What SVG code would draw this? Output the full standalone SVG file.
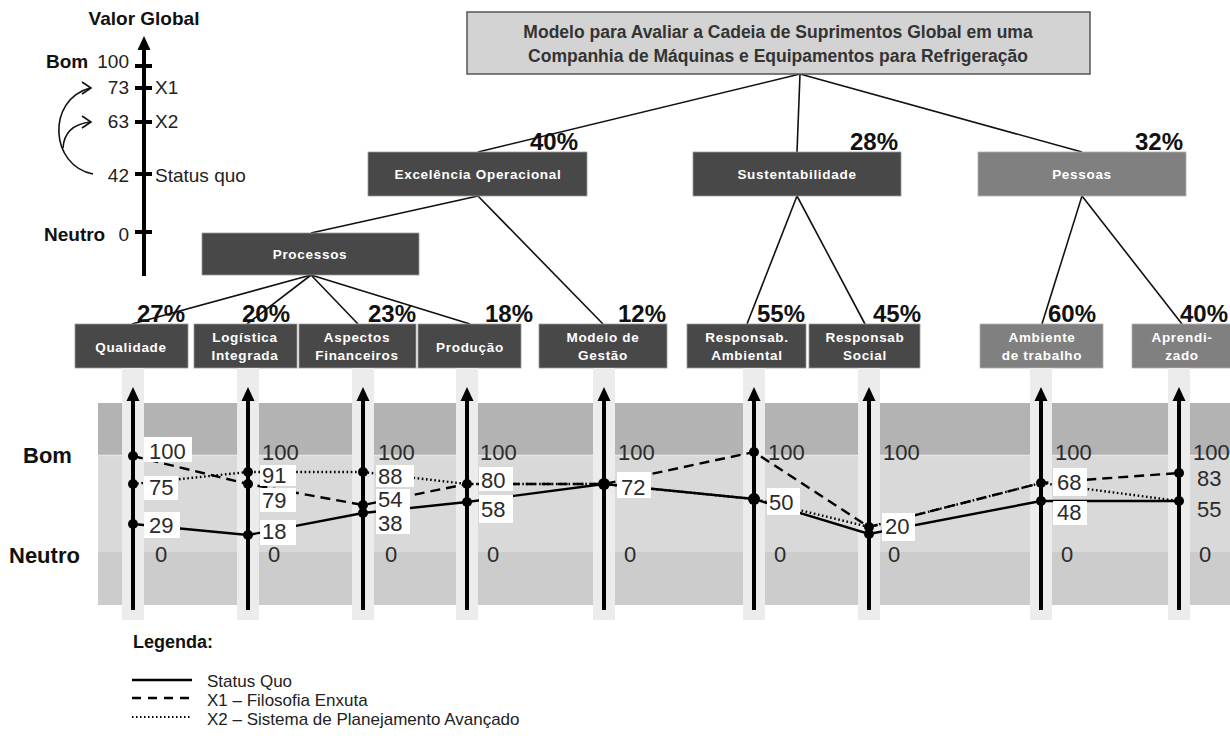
<svg xmlns="http://www.w3.org/2000/svg" width="1230" height="741" viewBox="0 0 1230 741">
  <defs>
    <style>
      text { font-family: "Liberation Sans", Arial, sans-serif; }
      .box { fill: #484848; stroke: #9a9a9a; stroke-width: 0.8; }
      .boxl { fill: #808080; stroke: #b0b0b0; stroke-width: 0.8; }
      .bt { fill: #ffffff; font-size: 13.5px; font-weight: bold; letter-spacing: 0.7px; text-anchor: middle; }
      .pct { fill: #111; font-size: 24px; font-weight: bold; }
      .conn { stroke: #111; stroke-width: 1.6; fill: none; }
      .num { fill: #2b2b2b; font-size: 22px; }
      .lab { fill: #fff; }
      .ax { stroke: #000; stroke-width: 4; }
      .strip { fill: #ececec; }
      .sq { stroke: #000; stroke-width: 2.4; fill: none; }
      .x1 { stroke: #000; stroke-width: 2.4; fill: none; stroke-dasharray: 10 6; }
      .x2 { stroke: #000; stroke-width: 2.4; fill: none; stroke-dasharray: 1.6 2.6; }
      .sc { fill: #222; font-size: 19px; }
      .scb { fill: #111; font-size: 19px; font-weight: bold; }
      .big { fill: #111; font-size: 22px; font-weight: bold; }
      .leg { fill: #222; font-size: 17px; }
    </style>
    <path id="tip" d="M0,0 L-6.5,14 L6.5,14 Z" fill="#000"/>
  </defs>

  <rect x="0" y="0" width="1230" height="741" fill="#ffffff"/>

  <!-- global value scale -->
  <g id="valor-global">
    <text class="scb" x="144" y="25" text-anchor="middle">Valor Global</text>
    <line x1="144" y1="46" x2="144" y2="276" class="ax"/>
    <use href="#tip" x="144" y="36"/>
    <g fill="#000">
      <rect x="135" y="64" width="17" height="4"/>
      <rect x="135" y="86" width="17" height="4"/>
      <rect x="135" y="120" width="17" height="4"/>
      <rect x="135" y="172" width="17" height="4"/>
      <rect x="135" y="230" width="17" height="4"/>
    </g>
    <text class="scb" x="46" y="68">Bom</text>
    <text class="sc" x="129" y="68" text-anchor="end">100</text>
    <text class="sc" x="129" y="94" text-anchor="end">73</text>
    <text class="sc" x="155" y="94">X1</text>
    <text class="sc" x="129" y="128" text-anchor="end">63</text>
    <text class="sc" x="155" y="128">X2</text>
    <text class="sc" x="129" y="182" text-anchor="end">42</text>
    <text class="sc" x="155" y="182">Status quo</text>
    <text class="scb" x="44" y="241">Neutro</text>
    <text class="sc" x="129" y="241" text-anchor="end">0</text>
    <path d="M93,174 C50,166 46,100 90,88" fill="none" stroke="#111" stroke-width="1.6"/>
    <path d="M63,148 C64,132 74,124 90,122" fill="none" stroke="#111" stroke-width="1.6"/>
    <polyline points="82,82 91,88 82,94" fill="none" stroke="#111" stroke-width="1.6"/>
    <polyline points="82,116 91,122 82,128" fill="none" stroke="#111" stroke-width="1.6"/>
  </g>

  <!-- tree connectors -->
  <g id="connectors">
    <line class="conn" x1="800" y1="74" x2="478" y2="152"/>
    <line class="conn" x1="800" y1="74" x2="797" y2="152"/>
    <line class="conn" x1="800" y1="74" x2="1082" y2="152"/>
    <line class="conn" x1="478" y1="196" x2="311" y2="233"/>
    <line class="conn" x1="478" y1="196" x2="603" y2="324"/>
    <line class="conn" x1="311" y1="275" x2="132" y2="324"/>
    <line class="conn" x1="311" y1="275" x2="247" y2="324"/>
    <line class="conn" x1="311" y1="275" x2="358" y2="324"/>
    <line class="conn" x1="311" y1="275" x2="470" y2="324"/>
    <line class="conn" x1="797" y1="196" x2="747" y2="324"/>
    <line class="conn" x1="797" y1="196" x2="865" y2="324"/>
    <line class="conn" x1="1082" y1="196" x2="1042" y2="324"/>
    <line class="conn" x1="1082" y1="196" x2="1182" y2="324"/>
  </g>

  <!-- root -->
  <g id="titulo">
    <rect x="467" y="12" width="623" height="62" fill="#d3d3d3" stroke="#555" stroke-width="1.5"/>
    <text x="778" y="38" text-anchor="middle" font-size="17.5" font-weight="bold" fill="#333">Modelo para Avaliar a Cadeia de Suprimentos Global em uma</text>
    <text x="778" y="62" text-anchor="middle" font-size="17.5" font-weight="bold" fill="#333">Companhia de Máquinas e Equipamentos para Refrigeração</text>
  </g>

  <!-- first level -->
  <g id="excelencia">
    <rect class="box" x="368" y="152" width="219" height="44"/>
    <text class="bt" x="478" y="179">Excelência Operacional</text>
    <text class="pct" x="530" y="150">40%</text>
  </g>
  <g id="sustentabilidade">
    <rect class="box" x="693" y="152" width="208" height="44"/>
    <text class="bt" x="797" y="179">Sustentabilidade</text>
    <text class="pct" x="850" y="150">28%</text>
  </g>
  <g id="pessoas">
    <rect class="boxl" x="978" y="152" width="208" height="44"/>
    <text class="bt" x="1082" y="179">Pessoas</text>
    <text class="pct" x="1135" y="150">32%</text>
  </g>

  <g id="processos">
    <rect class="box" x="202" y="233" width="217" height="42"/>
    <text class="bt" x="310" y="259">Processos</text>
  </g>

  <!-- chart bands -->
  <g id="faixas">
    <rect x="98" y="403" width="1132" height="52" fill="#b3b3b3"/>
    <rect x="98" y="455" width="1132" height="97" fill="#d9d9d9"/>
    <rect x="98" y="552" width="1132" height="53" fill="#cccccc"/>
    <line x1="98" y1="455.5" x2="1230" y2="455.5" stroke="#e6e6e6" stroke-width="1.5"/>
    <text class="big" x="23" y="463">Bom</text>
    <text class="big" x="9" y="563">Neutro</text>
  </g>

  <!-- criteria -->
  <g id="qualidade">
    <rect class="box" x="75" y="324" width="113" height="44"/>
    <text class="bt" x="131" y="352">Qualidade</text>
    <text class="pct" x="137" y="322">27%</text>
    <rect class="strip" x="122" y="368" width="22" height="252"/>
  </g>
  <g id="logistica">
    <rect class="box" x="194" y="324" width="103" height="44"/>
    <text class="bt" x="245" y="342">Logística</text>
    <text class="bt" x="245" y="360">Integrada</text>
    <text class="pct" x="242" y="322">20%</text>
    <rect class="strip" x="237" y="368" width="22" height="252"/>
  </g>
  <g id="aspectos">
    <rect class="box" x="299" y="324" width="117" height="44"/>
    <text class="bt" x="357" y="342">Aspectos</text>
    <text class="bt" x="357" y="360">Financeiros</text>
    <text class="pct" x="368" y="322">23%</text>
    <rect class="strip" x="352" y="368" width="22" height="252"/>
  </g>
  <g id="producao">
    <rect class="box" x="418" y="324" width="103" height="44"/>
    <text class="bt" x="470" y="352">Produção</text>
    <text class="pct" x="485" y="322">18%</text>
    <rect class="strip" x="456" y="368" width="22" height="252"/>
  </g>
  <g id="modelo-gestao">
    <rect class="box" x="539" y="324" width="128" height="44"/>
    <text class="bt" x="603" y="342">Modelo de</text>
    <text class="bt" x="603" y="360">Gestão</text>
    <text class="pct" x="618" y="322">12%</text>
    <rect class="strip" x="593" y="368" width="22" height="252"/>
  </g>
  <g id="resp-ambiental">
    <rect class="box" x="687" y="324" width="119" height="44"/>
    <text class="bt" x="747" y="342">Responsab.</text>
    <text class="bt" x="747" y="360">Ambiental</text>
    <text class="pct" x="757" y="322">55%</text>
    <rect class="strip" x="743" y="368" width="22" height="252"/>
  </g>
  <g id="resp-social">
    <rect class="box" x="809" y="324" width="111" height="44"/>
    <text class="bt" x="865" y="342">Responsab</text>
    <text class="bt" x="865" y="360">Social</text>
    <text class="pct" x="873" y="322">45%</text>
    <rect class="strip" x="858" y="368" width="22" height="252"/>
  </g>
  <g id="ambiente">
    <rect class="boxl" x="980" y="324" width="123" height="44"/>
    <text class="bt" x="1042" y="342">Ambiente</text>
    <text class="bt" x="1042" y="360">de trabalho</text>
    <text class="pct" x="1048" y="322">60%</text>
    <rect class="strip" x="1030" y="368" width="22" height="252"/>
  </g>
  <g id="aprendizado">
    <rect class="boxl" x="1132" y="324" width="99" height="44"/>
    <text class="bt" x="1182" y="342">Aprendi-</text>
    <text class="bt" x="1182" y="360">zado</text>
    <text class="pct" x="1180" y="322">40%</text>
    <rect class="strip" x="1168" y="368" width="22" height="252"/>
  </g>

  <!-- value axes -->
  <g id="eixos">
    <line class="ax" x1="133" y1="610" x2="133" y2="398"/>
    <line class="ax" x1="248" y1="610" x2="248" y2="398"/>
    <line class="ax" x1="363" y1="610" x2="363" y2="398"/>
    <line class="ax" x1="467" y1="610" x2="467" y2="398"/>
    <line class="ax" x1="604" y1="610" x2="604" y2="398"/>
    <line class="ax" x1="754" y1="610" x2="754" y2="398"/>
    <line class="ax" x1="869" y1="610" x2="869" y2="398"/>
    <line class="ax" x1="1041" y1="610" x2="1041" y2="398"/>
    <line class="ax" x1="1179" y1="610" x2="1179" y2="398"/>
    <use href="#tip" x="133" y="387"/>
    <use href="#tip" x="248" y="387"/>
    <use href="#tip" x="363" y="387"/>
    <use href="#tip" x="467" y="387"/>
    <use href="#tip" x="604" y="387"/>
    <use href="#tip" x="754" y="387"/>
    <use href="#tip" x="869" y="387"/>
    <use href="#tip" x="1041" y="387"/>
    <use href="#tip" x="1179" y="387"/>
  </g>

  <!-- alternative profiles -->
  <g id="perfis">
    <polyline class="sq" points="133,524 248,535 363,513 467,502 604,484 754,499 869,534 1041,501 1179,501"/>
    <polyline class="x1" points="133,456 248,484 363,505 467,484 604,484 754,452 869,527 1041,483 1179,473"/>
    <polyline class="x2" points="133,484 248,472 363,472 467,484 604,484 754,499 869,527 1041,483 1179,501"/>
  </g>

  <g id="pontos" fill="#000">
    <circle cx="133" cy="456" r="5"/><circle cx="133" cy="484" r="5"/><circle cx="133" cy="524" r="5"/>
    <circle cx="248" cy="472" r="5"/><circle cx="248" cy="484" r="5"/><circle cx="248" cy="535" r="5"/>
    <circle cx="363" cy="472" r="5"/><circle cx="363" cy="505" r="5"/><circle cx="363" cy="513" r="5"/>
    <circle cx="467" cy="484" r="5"/><circle cx="467" cy="502" r="5"/>
    <circle cx="604" cy="484" r="6"/>
    <circle cx="754" cy="452" r="5"/><circle cx="754" cy="499" r="6"/>
    <circle cx="869" cy="527" r="5"/><circle cx="869" cy="534" r="5"/>
    <circle cx="1041" cy="483" r="5"/><circle cx="1041" cy="501" r="5"/>
    <circle cx="1179" cy="473" r="5"/><circle cx="1179" cy="501" r="5"/>
  </g>

  <!-- value labels -->
  <g id="rotulos">
    <rect class="lab" x="144" y="437" width="48" height="25"/>
    <rect class="lab" x="144" y="476" width="34" height="24"/>
    <rect class="lab" x="144" y="512" width="36" height="26"/>
    <rect class="lab" x="260" y="465" width="36" height="21"/>
    <rect class="lab" x="260" y="488" width="36" height="24"/>
    <rect class="lab" x="260" y="520" width="36" height="25"/>
    <rect class="lab" x="376" y="465" width="38" height="22"/>
    <rect class="lab" x="376" y="489" width="34" height="45"/>
    <rect class="lab" x="479" y="467" width="34" height="24"/>
    <rect class="lab" x="479" y="495" width="34" height="28"/>
    <rect class="lab" x="617" y="472" width="34" height="26"/>
    <rect class="lab" x="767" y="488" width="33" height="27"/>
    <rect class="lab" x="882" y="513" width="33" height="28"/>
    <rect class="lab" x="1053" y="468" width="34" height="28"/>
    <rect class="lab" x="1053" y="501" width="34" height="24"/>

    <text class="num" x="149" y="459">100</text>
    <text class="num" x="149" y="495">75</text>
    <text class="num" x="149" y="533">29</text>
    <text class="num" x="155" y="562">0</text>

    <text class="num" x="262" y="460">100</text>
    <text class="num" x="262" y="483">91</text>
    <text class="num" x="262" y="508">79</text>
    <text class="num" x="262" y="539">18</text>
    <text class="num" x="268" y="562">0</text>

    <text class="num" x="378" y="460">100</text>
    <text class="num" x="378" y="484">88</text>
    <text class="num" x="378" y="507">54</text>
    <text class="num" x="378" y="531">38</text>
    <text class="num" x="385" y="562">0</text>

    <text class="num" x="480" y="460">100</text>
    <text class="num" x="481" y="488">80</text>
    <text class="num" x="481" y="517">58</text>
    <text class="num" x="487" y="562">0</text>

    <text class="num" x="618" y="460">100</text>
    <text class="num" x="621" y="495">72</text>
    <text class="num" x="624" y="562">0</text>

    <text class="num" x="768" y="460">100</text>
    <text class="num" x="769" y="510">50</text>
    <text class="num" x="774" y="562">0</text>

    <text class="num" x="883" y="460">100</text>
    <text class="num" x="885" y="534">20</text>
    <text class="num" x="888" y="562">0</text>

    <text class="num" x="1055" y="460">100</text>
    <text class="num" x="1057" y="490">68</text>
    <text class="num" x="1057" y="520">48</text>
    <text class="num" x="1061" y="562">0</text>

    <text class="num" x="1193" y="460">100</text>
    <text class="num" x="1197" y="486">83</text>
    <text class="num" x="1197" y="517">55</text>
    <text class="num" x="1199" y="562">0</text>
  </g>

  <!-- legend -->
  <g id="legenda">
    <text x="133" y="648" font-size="18" font-weight="bold" fill="#111">Legenda:</text>
    <line class="sq" x1="132" y1="680" x2="192" y2="680"/>
    <text class="leg" x="207" y="687">Status Quo</text>
    <line x1="132" y1="698" x2="192" y2="698" stroke="#000" stroke-width="2.4" stroke-dasharray="9 7"/>
    <text class="leg" x="207" y="706">X1 – Filosofia Enxuta</text>
    <line x1="132" y1="717" x2="192" y2="717" stroke="#000" stroke-width="2" stroke-dasharray="1.5 2.5"/>
    <text class="leg" x="207" y="725">X2 – Sistema de Planejamento Avançado</text>
  </g>
</svg>
